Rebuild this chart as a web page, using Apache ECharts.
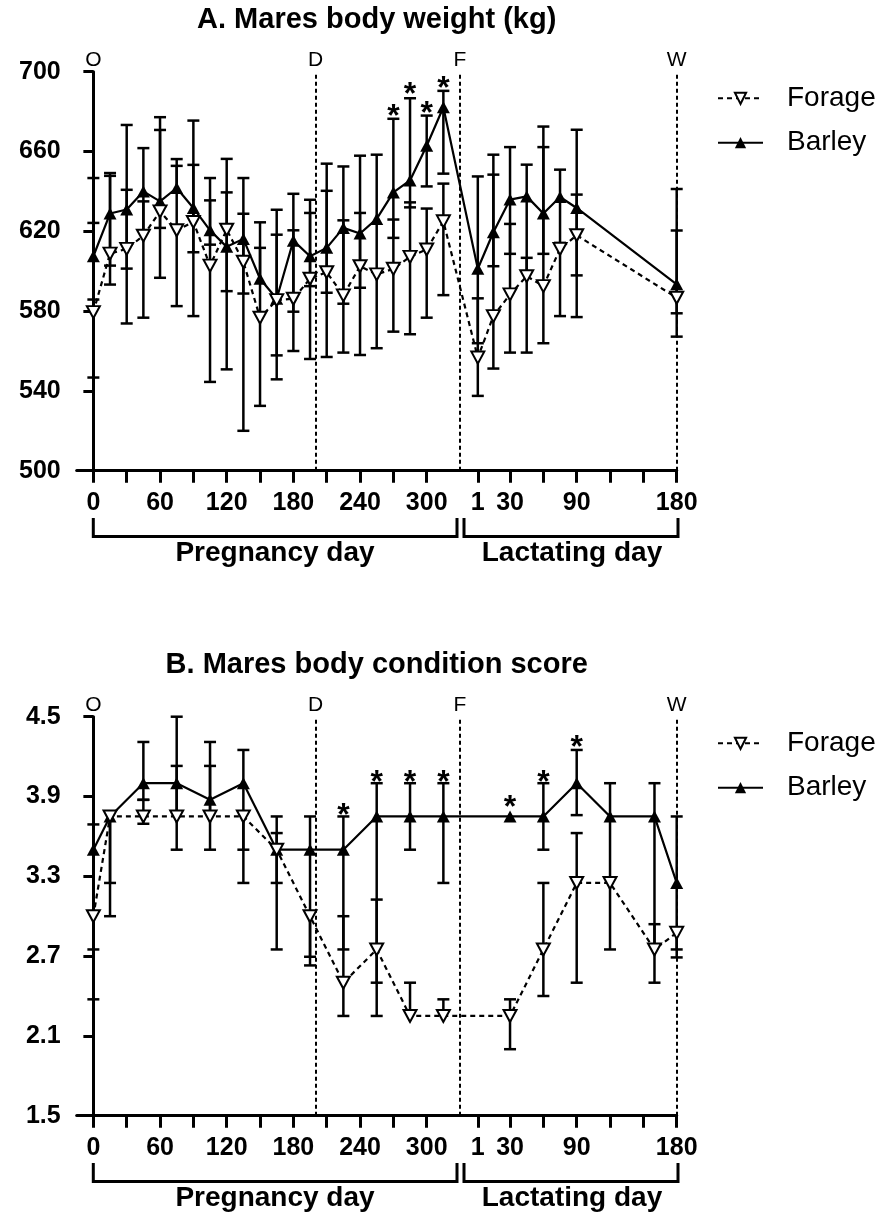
<!DOCTYPE html>
<html><head><meta charset="utf-8">
<script src="https://cdn.jsdelivr.net/npm/echarts@6/dist/echarts.min.js"></script>
<style>html,body{margin:0;padding:0;background:#fff}#c{width:884px;height:1216px}</style>
</head><body><div id="c"></div>
<script>
// ---------- shared axis definitions ----------
const LAC_OFFSET = 345;               // lactation day d is drawn at LAC_OFFSET + d
const pregTicks = [0,30,60,90,120,150,180,210,240,270,300];
const pregTickLabels = [0,60,120,180,240,300];
const lacTicks = [1,30,60,90,120,150,180];
const lacTickLabels = [1,30,90,180];
const eventNames = ['O','D','F','W'];
const eventPeriods = ['preg','preg','preg','lac'];
const eventDays = [0,200,330,180];
const seriesNames = ['Forage','Barley'];

// ---------- Panel A : body weight (kg) ----------
const titleA = 'A. Mares body weight (kg)';
const yTicksA = [500,540,580,620,660,700];
const pregDaysA = [0,15,30,45,60,75,90,105,120,135,150,165,180,195,210,225,240,255,270,285,300,315];
const lacDaysA = [1,15,30,45,60,75,90,180];
const barleyA = [607.5,628.9,630.9,640,635,641.7,631.7,620.5,612.2,616.2,596.2,586.2,615.3,607.5,611.7,621.7,618.9,626.2,639.5,645.5,662.9,682.2,
                 601.2,619.5,635.9,637.5,628.9,637.2,631.7,593.4];
const forageA = [579.5,608.8,611.2,617.8,630,620.5,624.7,602.8,620.8,604.7,576.7,585.5,586.2,596.2,599.5,587.9,602.5,598.4,601.2,607.2,610.9,625,
                 556.7,577.5,588.4,597.5,592.5,611.2,618,586.7];
const barleyA_lo = [585.8,602.8,601.3,617.8,596.7,641.7,609.5,613.3,590,588.8,596.2,545.8,579.7,592.5,589.2,583.7,591.7,598.4,616.7,632,642.5,648.9,
                    563.9,602.5,608.7,597.5,608.7,611.2,597.9,567.2];
const barleyA_hi = [646.7,649.2,673.3,661.7,677.2,656.2,653.3,635.5,639.5,646.7,611.7,630.8,638.8,629.2,640.3,652.5,657.9,658.4,676.4,686.7,678,690.4,
                    647.5,658.4,662.2,653.4,672.5,650.9,670.9,641.2];
const forageA_lo = [546.7,593.3,573.8,576.7,621.7,582.5,577.5,544.5,550.8,520,532.5,557.8,560,556,557,559.2,558,561.4,569.7,568.4,576.7,588,
                    537.5,551.2,559.2,559.2,563.9,577.5,577,578.9];
const forageA_hi = [624.2,647.8,640.8,635,670.8,652.8,675.5,646.7,656.3,628.8,624.5,618.3,620.5,635.8,653.9,625.5,629.2,598.4,625.9,634.5,631.4,643.9,
                    586.4,648.4,623.7,606.7,662.2,614.2,638.4,620.4];
const starPeriodsA = ['preg','preg','preg','preg'];
const starDaysA = [270,285,300,315];
const starYA = [681.7,692.5,683.4,695.9];

// ---------- Panel B : body condition score ----------
const titleB = 'B. Mares body condition score';
const yTicksB = [1.5,2.1,2.7,3.3,3.9,4.5];
const pregDaysB = [0,15,45,75,105,135,165,195,225,255,285,315];
const lacDaysB = [30,60,90,120,160,180];
const barleyB = [3.5,3.75,4.0,4.0,3.875,4.0,3.5,3.5,3.5,3.75,3.75,3.75, 3.75,3.75,4.0,3.75,3.75,3.25];
const forageB = [3.0,3.75,3.75,3.75,3.75,3.75,3.5,3.0,2.5,2.75,2.25,2.25, 2.25,2.75,3.25,3.25,2.75,2.875];
const barleyB_lo = [2.75,3.25,3.875,3.5,3.5,3.5,3.25,2.695,2.75,2.5,3.5,3.25, 3.75,3.5,3.76,2.75,2.5,2.69];
const barleyB_hi = [3.69,3.75,4.31,4.5,4.31,4.25,3.75,3.75,3.75,4.0,4.0,4.0, 3.75,4.0,4.25,4.0,4.0,3.75];
const forageB_lo = [2.375,3.0,3.695,3.75,3.75,3.25,2.75,2.63,2.25,2.25,2.25,2.25, 2.0,2.4,2.5,3.25,2.75,2.75];
const forageB_hi = [3.0,3.75,3.875,4.13,4.13,3.75,3.625,3.0,3.0,3.125,2.5,2.375, 2.375,3.25,3.625,3.25,2.94,2.875];
const starPeriodsB = ['preg','preg','preg','preg','lac','lac','lac'];
const starDaysB = [225,255,285,315,30,60,90];
const starYB = [3.82,4.07,4.07,4.07,3.88,4.07,4.33];

// ---------- helpers ----------
const toX = (period, day) => period === 'lac' ? LAC_OFFSET + day : day;
const FONT = '"Liberation Sans", Arial, sans-serif';
const PANEL_DY = 645;

function errRender(params, api) {
  const x = api.value(0), lo = api.value(1), hi = api.value(2), own = api.value(3), other = api.value(4);
  const pT = api.coord([x, hi]), pB = api.coord([x, lo]);
  const st = {stroke:'#000', lineWidth:2.5};
  const kids = [];
  if (Math.abs(hi - lo) > 1e-9) kids.push({type:'line', shape:{x1:pT[0],y1:pT[1],x2:pB[0],y2:pB[1]}, style:st});
  const capped = v => Math.abs(v - own) > 1e-9 && Math.abs(v - other) > 1e-9;
  if (capped(hi)) kids.push({type:'line', shape:{x1:pT[0]-6,y1:pT[1],x2:pT[0]+6,y2:pT[1]}, style:st});
  if (capped(lo)) kids.push({type:'line', shape:{x1:pB[0]-6,y1:pB[1],x2:pB[0]+6,y2:pB[1]}, style:st});
  return {type:'group', children:kids};
}

function starRender(params, api) {
  const p = api.coord([api.value(0), api.value(1)]);
  return {type:'text', x:p[0], y:p[1] + 9,
    style:{text:'*', font:'bold 32px ' + FONT, fill:'#000', textAlign:'center', textVerticalAlign:'middle'}};
}

const option = {
  animation:false, backgroundColor:'#fff',
  title:[], grid:[], xAxis:[], yAxis:[], series:[], legend:[], graphic:[]
};

function addPanel(idx, p) {
  const dy = idx * PANEL_DY;
  const xs = p.pregDays.map(d => toX('preg', d)).concat(p.lacDays.map(d => toX('lac', d)));
  option.title.push({text:p.title, left:376.7, top:5 + dy, textAlign:'center', padding:0,
    textStyle:{fontFamily:FONT, fontWeight:'bold', fontSize:29, lineHeight:29, color:'#000'}});
  option.grid.push({left:76.7, width:600, top:71.7 + dy, height:399, containLabel:false});
  option.xAxis.push({type:'value', gridIndex:idx, min:-15, max:LAC_OFFSET + 180,
    splitLine:{show:false},
    axisLine:{show:true, onZero:false, lineStyle:{color:'#000', width:3}},
    axisTick:{show:true, length:12, lineStyle:{color:'#000', width:3},
      customValues: pregTicks.concat(lacTicks.map(d => toX('lac', d)))},
    axisLabel:{show:true, margin:20, color:'#000', fontFamily:FONT, fontWeight:'bold', fontSize:25,
      customValues: pregTickLabels.concat(lacTickLabels.map(d => toX('lac', d))),
      formatter: v => v >= LAC_OFFSET ? String(Math.round(v - LAC_OFFSET)) : String(Math.round(v))}
  });
  option.yAxis.push({type:'value', gridIndex:idx, min:p.yTicks[0], max:p.yTicks[p.yTicks.length-1],
    splitLine:{show:false},
    axisLine:{show:true, lineStyle:{color:'#000', width:3}},
    axisTick:{show:true, length:10, lineStyle:{color:'#000', width:3}, customValues:p.yTicks},
    axisLabel:{show:true, margin:16, color:'#000', fontFamily:FONT, fontWeight:'bold', fontSize:25,
      customValues:p.yTicks, formatter:p.yFmt}
  });
  const mk = (arr) => xs.map((x, i) => [x, arr[i]]);
  // error bars
  option.series.push({type:'custom', name:'err-f', xAxisIndex:idx, yAxisIndex:idx, z:1, clip:false, silent:true,
    renderItem:errRender, encode:{x:0, y:[1,2]},
    data: xs.map((x, i) => [x, p.forLo[i], p.forHi[i], p.forage[i], p.barley[i]])});
  option.series.push({type:'custom', name:'err-b', xAxisIndex:idx, yAxisIndex:idx, z:1, clip:false, silent:true,
    renderItem:errRender, encode:{x:0, y:[1,2]},
    data: xs.map((x, i) => [x, p.barLo[i], p.barHi[i], p.barley[i], p.forage[i]])});
  // Barley
  option.series.push({type:'line', name:'Barley', xAxisIndex:idx, yAxisIndex:idx, z:3,
    symbol:'triangle', symbolSize:[13,12], showAllSymbol:true,
    itemStyle:{color:'#000', borderColor:'#000', borderWidth:0},
    lineStyle:{color:'#000', width:2.2},
    data: mk(p.barley),
    markLine:{silent:true, symbol:['none','none'], z:0,
      lineStyle:{color:'#000', width:2, type:[4,3]},
      label:{show:true, position:'end', distance:1, formatter:'{b}', color:'#000', fontFamily:FONT, fontSize:21},
      data: eventNames.map((n, i) => ({name:n, xAxis: toX(eventPeriods[i], eventDays[i])}))}
  });
  // Forage
  option.series.push({type:'line', name:'Forage', xAxisIndex:idx, yAxisIndex:idx, z:4,
    symbol:'triangle', symbolRotate:180, symbolSize:[13,12], showAllSymbol:true,
    itemStyle:{color:'#fff', borderColor:'#000', borderWidth:2},
    lineStyle:{color:'#000', width:2.2, type:[5,4]},
    data: mk(p.forage)});
  // asterisks (significant differences)
  option.series.push({type:'custom', name:'sig', xAxisIndex:idx, yAxisIndex:idx, z:5, clip:false, silent:true,
    renderItem:starRender, encode:{x:0, y:1},
    data: p.starDays.map((d, i) => [toX(p.starPeriods[i], d), p.starY[i]])});
  option.legend.push({data:seriesNames, orient:'vertical', left:717, top:83.3 + dy, padding:0,
    itemWidth:45, itemHeight:14, itemGap:14.4, selectedMode:false,
    textStyle:{fontFamily:FONT, fontSize:28, lineHeight:30, color:'#000', padding:[0,0,0,19]}});
  // brackets and axis group names
  const bTop = 518 + dy, bBot = 536.5 + dy;
  option.graphic.push({type:'polyline', shape:{points:[[93.3,bTop],[93.3,bBot],[457,bBot],[457,bTop]]},
    style:{stroke:'#000', lineWidth:3, fill:null}});
  option.graphic.push({type:'polyline', shape:{points:[[464,bTop],[464,bBot],[678,bBot],[678,bTop]]},
    style:{stroke:'#000', lineWidth:3, fill:null}});
  option.graphic.push({type:'text', x:275, y:553 + dy,
    style:{text:'Pregnancy day', font:'bold 28px ' + FONT, fill:'#000', textAlign:'center', textVerticalAlign:'middle'}});
  option.graphic.push({type:'text', x:572, y:553 + dy,
    style:{text:'Lactating day', font:'bold 28px ' + FONT, fill:'#000', textAlign:'center', textVerticalAlign:'middle'}});
}

addPanel(0, {title:titleA, yTicks:yTicksA, yFmt: v => String(Math.round(v)),
  pregDays:pregDaysA, lacDays:lacDaysA, barley:barleyA, forage:forageA,
  barLo:barleyA_lo, barHi:barleyA_hi, forLo:forageA_lo, forHi:forageA_hi,
  starPeriods:starPeriodsA, starDays:starDaysA, starY:starYA});
addPanel(1, {title:titleB, yTicks:yTicksB, yFmt: v => v.toFixed(1),
  pregDays:pregDaysB, lacDays:lacDaysB, barley:barleyB, forage:forageB,
  barLo:barleyB_lo, barHi:barleyB_hi, forLo:forageB_lo, forHi:forageB_hi,
  starPeriods:starPeriodsB, starDays:starDaysB, starY:starYB});

const chart = echarts.init(document.getElementById('c'), null, {renderer:'canvas'});
chart.setOption(option);
</script>
</body></html>
